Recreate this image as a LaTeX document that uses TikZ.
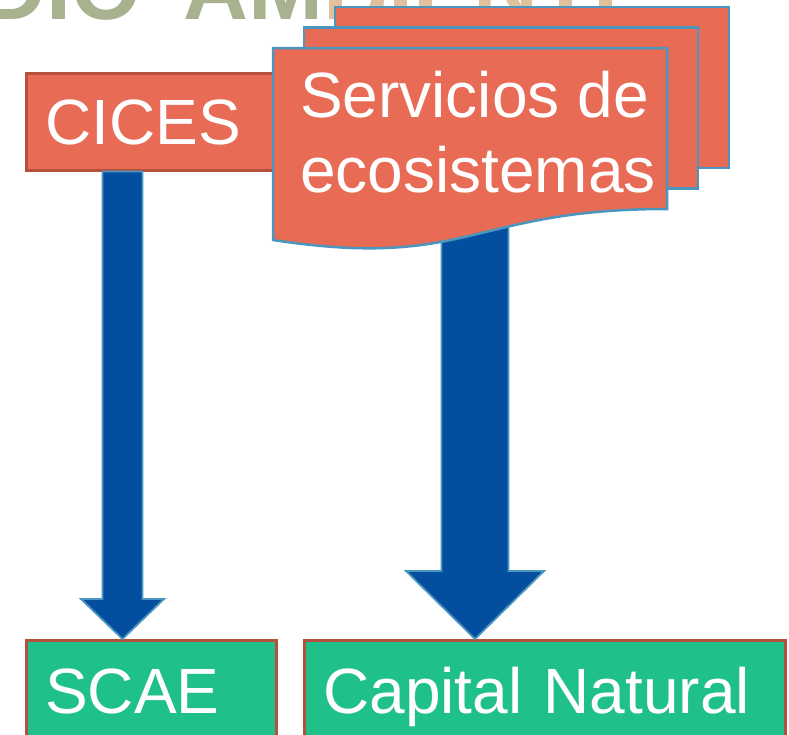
\documentclass[tikz,border=0pt]{standalone}
\usepackage{fontspec}
\setmainfont{Liberation Sans}
\usetikzlibrary{calc}

\definecolor{salmon}{RGB}{232,107,85}
\definecolor{brick}{RGB}{180,80,60}
\definecolor{docblue}{RGB}{75,150,190}
\definecolor{arrowblue}{RGB}{4,78,160}
\definecolor{mint}{RGB}{32,192,138}
\definecolor{olive}{RGB}{140,152,105}
\definecolor{tan}{RGB}{215,172,122}

\begin{document}
\begin{tikzpicture}[x=1pt,y=-1pt,
	label box/.style={anchor=north west, line width=2.5pt, inner xsep=19pt,
		text width=#1, align=left, text height=46pt, text depth=0pt,
		font=\fontsize{64}{75}\selectfont, text=white},
	doc/.style={fill=salmon, draw=docblue, line width=2.5pt},
	fat arrow/.style={fill=arrowblue, draw=docblue, line width=1.8pt},
	]
			\useasboundingbox (0,0) rectangle (789,734);
			% faded banner behind
			\node[anchor=base east, inner sep=0, text=olive, opacity=0.75,
				font=\fontsize{90}{90}\selectfont\bfseries] (wmA) at (142,19) {DIO};
			\node[anchor=base west, inner sep=0, text=olive, opacity=0.75,
				font=\fontsize{90}{90}\selectfont\bfseries] (wmB) at (183,19) {AM\textcolor{tan}{BIENTE}};
			\foreach \i in {2, 1}
			{
				\filldraw[doc] (273+31*\i, 48-20.5*\i) rectangle +(394, 161);
			}
			\node[label box=257pt, draw=brick, fill=salmon, minimum height=97pt] (cices) at (25,72) {CICES};
			\node[label box=212pt, draw=brick, fill=mint, minimum height=101pt] (scae) at (25,639) {SCAE};
			\node[label box=443pt, draw=brick, fill=mint, minimum height=101pt] (capnat) at (303,639) {Capital Natural};
			\coordinate (ciTop) at ($(cices.south west)+(97.5,0)$);
			\coordinate (scTip) at (ciTop |- scae.north);
			\coordinate (svBot) at (475,215);
			\coordinate (cnTip) at (svBot |- capnat.north);
			\foreach \a/\b/\s/\h/\l in {ciTop/scTip/20/41.5/40, svBot/cnTip/33.5/69/68}
			{
				\filldraw[fat arrow] let \p1=(\a), \p2=(\b) in
					(\x1-\s*1pt, \y1) -- (\x1+\s*1pt, \y1) -- (\x1+\s*1pt, \y2+\l*1pt)
					-- (\x1+\h*1pt, \y2+\l*1pt) -- (\x2, \y2) -- (\x1-\h*1pt, \y2+\l*1pt)
					-- (\x1-\s*1pt, \y2+\l*1pt) -- cycle;
			}
			\filldraw[doc] (273,48) -- (667,48) -- (667,209)
				.. controls (470,209) and (470,270) .. (273,240) -- cycle;
			\node[anchor=north west, inner sep=0, align=left, text=white,
				font=\fontsize{64}{75}\selectfont] (serv) at (300,71) {Servicios de\\ecosistemas};
		\end{tikzpicture}
\end{document}
